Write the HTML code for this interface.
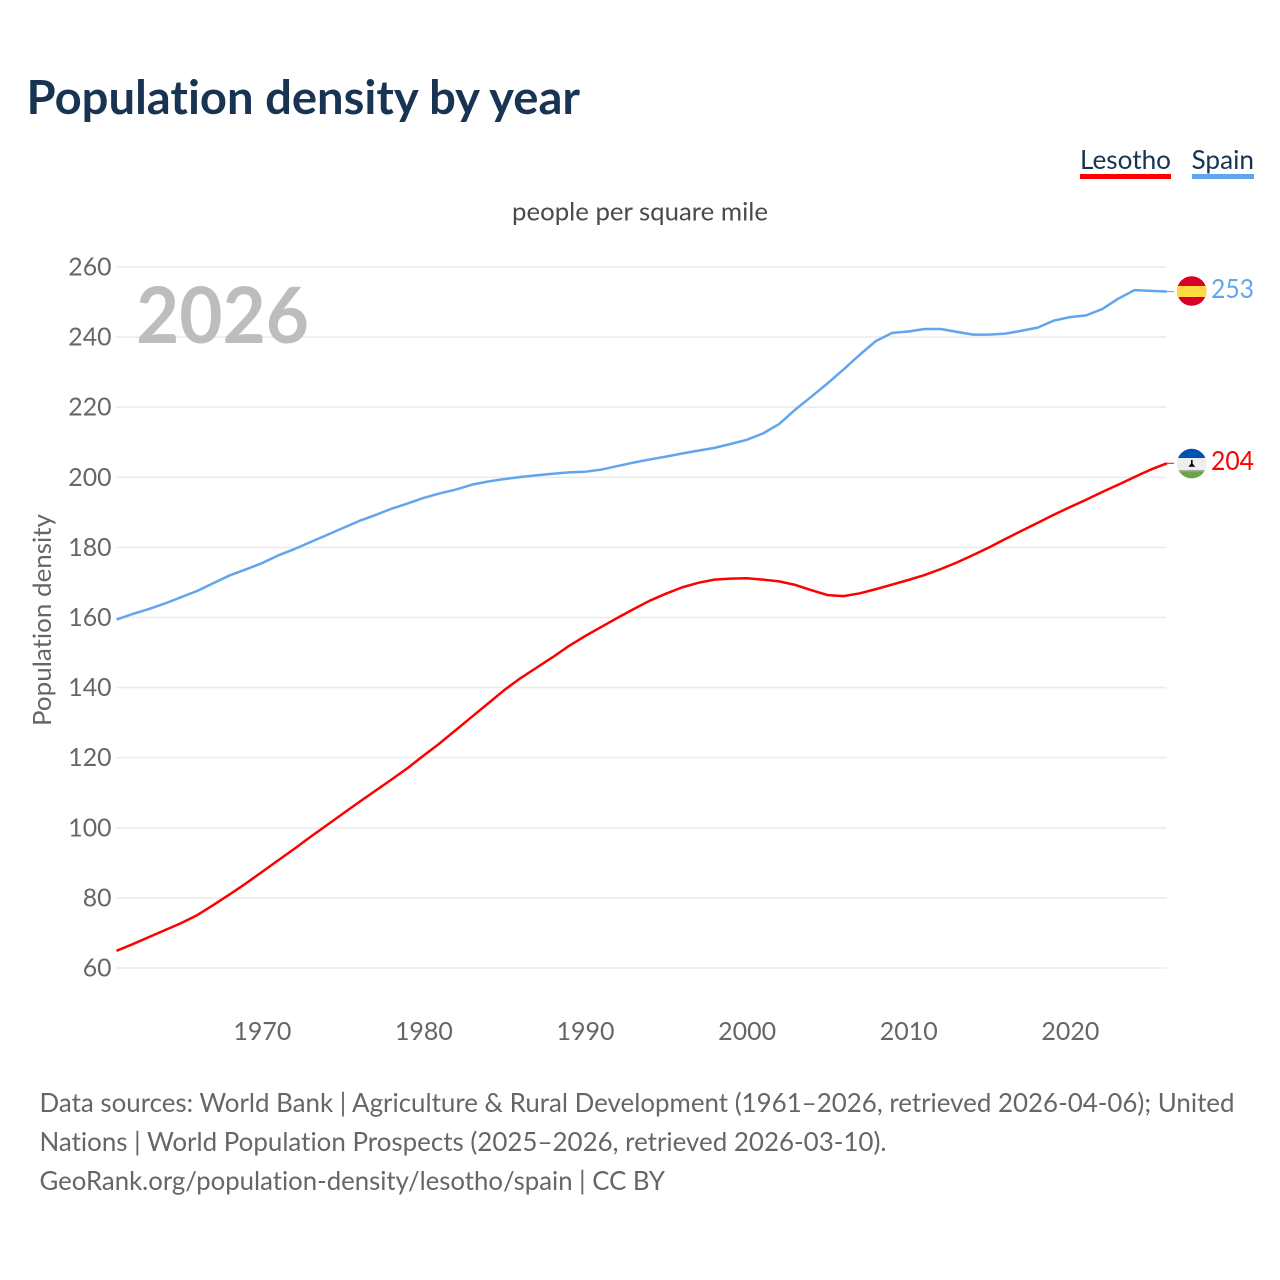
<!DOCTYPE html>
<html>
<head>
<meta charset="utf-8">
<title>Population density by year</title>
<style>
html,body{margin:0;padding:0;background:#fff}
svg{display:block}
text{font-family:"Lato","Carlito","Liberation Sans",sans-serif;font-variant-ligatures:none;font-feature-settings:"liga" 0,"clig" 0}
</style>
</head>
<body>
<svg id="chart" xmlns="http://www.w3.org/2000/svg" width="1280" height="1280" viewBox="0 0 1280 1280">
  <rect x="0" y="0" width="1280" height="1280" fill="#fff"/>
  <text x="26.5" y="114" font-size="46.5" font-weight="700" fill="#183452" textLength="553.5" lengthAdjust="spacingAndGlyphs">Population density by year</text>

  <g>
    <text x="1080" y="169" font-size="26" fill="#183452" textLength="91" lengthAdjust="spacingAndGlyphs">Lesotho</text>
    <rect x="1080" y="174" width="91" height="5" fill="#ff0000"/>
  </g>
  <g>
    <text x="1191.5" y="169" font-size="26" fill="#183452" textLength="62.5" lengthAdjust="spacingAndGlyphs">Spain</text>
    <rect x="1192" y="174" width="62" height="5" fill="#60a5ee"/>
  </g>

  <text x="512" y="220.5" font-size="25.5" fill="#4a4a4a" textLength="256" lengthAdjust="spacingAndGlyphs">people per square mile</text>
  <text transform="translate(51,726) rotate(-90)" x="0" y="0" font-size="25.5" fill="#666" textLength="212" lengthAdjust="spacingAndGlyphs">Population density</text>

  <g id="grid"></g>
  <g id="yticks"></g>
  <g id="xticks"></g>

  <text x="136" y="343" font-size="78" font-weight="700" fill="#bdbdbd" textLength="173" lengthAdjust="spacingAndGlyphs">2026</text>

  <g id="series"></g>

  <defs>
    <clipPath id="clip-es"><circle cx="1191.7" cy="291" r="14.8"/></clipPath>
    <clipPath id="clip-ls"><circle cx="1191.7" cy="463.6" r="14.8"/></clipPath>
  </defs>
  <g clip-path="url(#clip-es)">
    <rect x="1176" y="275" width="32" height="32" fill="#d80027"/>
    <rect x="1176" y="286" width="32" height="11" fill="#ffda44"/>
  </g>
  <g clip-path="url(#clip-ls)">
    <rect x="1176" y="448" width="32" height="32" fill="#eeeeee"/>
    <rect x="1176" y="448" width="32" height="10" fill="#0052b4"/>
    <rect x="1176" y="470" width="32" height="1.5" fill="#a9a9a9"/>
    <rect x="1176" y="471.5" width="32" height="9" fill="#6da544"/>
    <path d="M1191 460h1.6v3.6l2.6 3.2h-6.8l2.6-3.2z" fill="#000"/>
  </g>
  <text x="1211" y="298" font-size="26" fill="#60a5ee" textLength="43" lengthAdjust="spacingAndGlyphs">253</text>
  <text x="1211" y="470" font-size="26" fill="#ff0000" textLength="43" lengthAdjust="spacingAndGlyphs">204</text>

  <g font-size="26.5" fill="#666">
    <text x="39.5" y="1112" textLength="1195" lengthAdjust="spacingAndGlyphs">Data sources: World Bank | Agriculture &amp; Rural Development (1961–2026, retrieved 2026-04-06); United</text>
    <text x="39.5" y="1151" textLength="847" lengthAdjust="spacingAndGlyphs">Nations | World Population Prospects (2025–2026, retrieved 2026-03-10).</text>
    <text x="39.5" y="1190" textLength="625.5" lengthAdjust="spacingAndGlyphs">GeoRank.org/population-density/lesotho/spain | CC BY</text>
  </g>
</svg>
<script>
var firstYear = 1961;
var yTickValues = [60, 80, 100, 120, 140, 160, 180, 200, 220, 240, 260];
var xTickYears = [1970, 1980, 1990, 2000, 2010, 2020];
var spainValues = [159.4,161,162.4,164,165.8,167.6,169.8,172,173.7,175.5,177.7,179.5,181.5,183.5,185.5,187.5,189.2,191,192.5,194.1,195.4,196.5,197.9,198.8,199.5,200.1,200.6,201,201.4,201.6,202.2,203.2,204.2,205.1,205.9,206.8,207.6,208.4,209.5,210.7,212.5,215.2,219.3,223,226.8,230.8,235,238.9,241.2,241.6,242.3,242.3,241.5,240.7,240.7,241,241.8,242.7,244.7,245.7,246.2,248,251,253.4,253.2,253];
var lesothoValues = [64.9,66.8,68.8,70.8,72.8,75.1,78,81,84.1,87.4,90.7,94,97.4,100.7,104,107.3,110.5,113.7,117,120.6,124.1,127.9,131.7,135.5,139.3,142.7,145.7,148.7,151.9,154.7,157.3,159.9,162.4,164.8,166.8,168.6,169.9,170.8,171.1,171.2,170.8,170.3,169.3,167.8,166.4,166.1,166.9,168.1,169.4,170.7,172.1,173.8,175.7,177.8,180,182.4,184.7,187,189.3,191.5,193.6,195.8,197.9,200.1,202.2,204];

var SVGNS = 'http://www.w3.org/2000/svg';
function xScale(year) { return 116.5 + (year - 1961) * 16.16; }
function yScale(v) { return 968 - (v - 60) * 3.505; }
function make(tag, parent, attrs) {
  var el = document.createElementNS(SVGNS, tag);
  for (var k in attrs) { el.setAttribute(k, attrs[k]); }
  parent.appendChild(el);
  return el;
}

var grid = document.getElementById('grid');
var yticks = document.getElementById('yticks');
yTickValues.forEach(function (v) {
  var line = make('line', grid, { x1: 116, x2: 1166.5, y1: yScale(v), y2: yScale(v), stroke: '#ececec', 'stroke-width': 1.6 });
  
  
  var t = make('text', yticks, { x: 111.5, y: yScale(v) + 8.5, 'text-anchor': 'end', 'font-size': 25.5, fill: '#666', textLength: String(v).length * 14.4, lengthAdjust: 'spacingAndGlyphs' });
  
  
  t.textContent = v;
});

var xticks = document.getElementById('xticks');
xTickYears.forEach(function (yr) {
  var t = make('text', xticks, { x: xScale(yr) + 0.4, y: 1040, 'text-anchor': 'middle', 'font-size': 25.5, fill: '#666', textLength: 58, lengthAdjust: 'spacingAndGlyphs' });
  
  
  t.textContent = yr;
});

var seriesGroup = document.getElementById('series');
function drawSeries(values, color, name) {
  var pts = values.map(function (v, i) {
    return xScale(firstYear + i).toFixed(2) + ',' + yScale(v).toFixed(2);
  });
  var last = values[values.length - 1];
  var lastX = xScale(firstYear + values.length - 1);
  var connector = make('line', seriesGroup, { x1: lastX, x2: 1174, y1: yScale(last), y2: yScale(last), stroke: color, 'stroke-width': 1 });
  
  
  var line = make('polyline', seriesGroup, { points: pts.join(' '), fill: 'none', stroke: color, 'stroke-width': 2.5, 'stroke-linejoin': 'round' });
  
  
}
drawSeries(lesothoValues, '#ff0000', 'lesotho');
drawSeries(spainValues, '#60a5ee', 'spain');
</script>
</body>
</html>
